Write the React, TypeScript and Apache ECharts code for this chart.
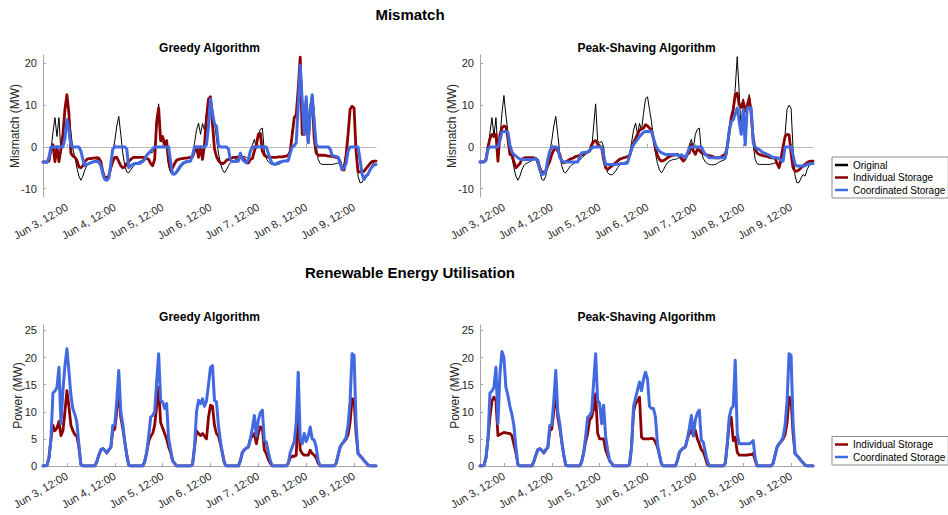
import React, { useEffect, useRef } from 'react';
import * as echarts from 'echarts';

// Hourly timeline, Jun 3 00:00 to Jun 9 23:00
const days = ['Jun 3', 'Jun 4', 'Jun 5', 'Jun 6', 'Jun 7', 'Jun 8', 'Jun 9'];
const hoursOfDay = [
  '00:00', '01:00', '02:00', '03:00', '04:00', '05:00', '06:00', '07:00',
  '08:00', '09:00', '10:00', '11:00', '12:00', '13:00', '14:00', '15:00',
  '16:00', '17:00', '18:00', '19:00', '20:00', '21:00', '22:00', '23:00',
];
const timeLabels = days.flatMap((d) => hoursOfDay.map((h) => `${d}, ${h}`));

const mismatchTicks = [-10, 0, 10, 20];
const powerTicks = [0, 5, 10, 15, 20, 25];

// Mismatch (MW) without storage
const mismatchOriginal = [
  -3.6, -3.6, -3.6, -3.4, -1.0, 3.5, 7.0, 2.5, 7.0, -1.5, 2.0, 8.0, 12.3, 7.5, 3.5, -0.5, -2.5, -5.0, -7.0, -8.0, -7.0, -5.5, -4.5, -4.0,
  -3.8, -3.5, -3.3, -3.1, -3.0, -4.5, -6.0, -7.8, -8.0, -7.0, -4.0, -1.0, 1.5, 5.0, 7.3, 3.0, -1.5, -4.5, -6.0, -6.2, -5.5, -4.8, -4.3, -4.0,
  -3.6, -3.4, -3.1, -2.7, -2.2, -1.6, -1.4, -1.3, -0.5, 5.0, 10.3, 1.5, 1.0, 1.3, 0.0, -4.5, -6.2, -6.6, -6.7, -6.4, -5.8, -5.0, -4.4, -4.0,
  -3.8, -3.6, -3.4, -2.0, 1.0, 4.0, 5.7, 3.0, 5.6, 4.0, 8.0, 11.5, 12.0, 9.0, 6.0, 2.0, -1.5, -4.0, -5.5, -6.2, -5.5, -4.5, -3.8, -3.4,
  -3.2, -3.0, -3.0, -2.8, -2.5, -2.3, -2.5, -3.0, -1.5, 0.5, 1.8, -0.3, 3.0, 4.2, 4.5, -1.0, -2.8, -3.6, -4.0, -4.2, -4.3, -4.3, -4.2, -4.0,
  -3.6, -3.4, -3.2, -3.0, -1.5, 4.0, 7.0, 7.7, 14.0, 21.6, 13.0, 3.0, 11.5, 1.0, 9.0, 12.5, 9.0, 0.5, -3.0, -4.0, -4.2, -4.2, -4.2, -4.2,
  -4.2, -4.2, -4.1, -4.0, -3.8, -4.2, -5.0, -4.0, -1.5, 3.0, 9.0, 10.0, 9.3, -0.5, -7.0, -8.6, -8.5, -7.5, -6.6, -7.0, -5.5, -4.5, -3.5, -3.3,
];

// Mismatch (MW), greedy algorithm
const greedyMismatchIndividual = [
  -3.6, -3.6, -3.6, -3.4, -0.5, 0.5, -3.5, 0.0, -3.5, -0.5, 3.0, 9.0, 12.5, 8.0, -1.5, -2.2, -2.5, -3.2, -4.8, -5.0, -4.5, -3.5, -3.0, -2.8,
  -2.8, -2.7, -2.7, -2.6, -2.7, -3.5, -6.0, -7.5, -7.3, -7.0, -5.0, -3.5, -2.5, -2.5, -3.5, -4.5, -5.0, -4.8, -4.0, -3.5, -3.0, -2.6, -2.5, -2.5,
  -2.5, -2.5, -2.5, -2.6, -2.8, -3.0, -4.0, -4.5, -3.0, 6.0, 9.3, 1.5, 2.5, 0.5, 1.5, -3.5, -5.5, -5.0, -4.0, -3.2, -3.0, -2.9, -2.8, -2.7,
  -2.7, -2.6, -2.5, -2.4, -1.0, 0.0, -2.5, 0.0, -3.0, 0.5, 7.0, 11.5, 12.0, 5.5, -0.5, -2.3, -3.3, -3.8, -4.0, -3.8, -3.2, -3.0, -2.8, -2.6,
  -2.5, -2.5, -2.4, -2.4, -2.5, -3.0, -3.8, -3.8, -3.0, -2.8, -1.0, 0.5, 3.0, 3.2, -1.0, -2.0, -2.3, -2.5, -2.5, -2.5, -2.5, -2.5, -2.4, -2.4,
  -2.4, -2.3, -2.2, -2.0, -1.0, 3.0, 7.0, 7.7, 14.0, 21.5, 3.0, 3.0, 11.0, 1.0, 9.0, 12.0, 2.0, -1.5, -2.0, -2.0, -2.0, -2.0, -2.1, -2.2,
  -2.2, -2.3, -2.4, -2.5, -2.6, -3.5, -5.5, -5.5, -2.0, 3.0, 9.0, 9.7, 9.3, -1.0, -6.0, -6.0, -6.0, -5.8, -5.2, -4.6, -4.0, -3.5, -3.4, -3.4,
];
const greedyMismatchCoordinated = [
  -3.7, -3.7, -3.7, -2.5, 0, 0, 0, 0, 0, 0, 0, 2.0, 6.5, 4.0, 0.3, 0, 0, 0, 0, -1.0, -3.0, -4.5, -4.2, -4.0,
  -3.8, -3.6, -3.5, -3.5, -3.6, -4.5, -6.5, -7.8, -8.0, -7.5, -4.0, -0.5, 0, 0, 0, 0, 0, 0, -0.5, -5.0, -4.5, -4.2, -4.0, -4.0,
  -4.0, -3.8, -3.5, -3.0, -2.0, -1.5, -1.0, -0.5, 0, 0, 0, 0, 0, 0, 0, 0, -3.5, -6.5, -6.5, -6.0, -5.2, -4.5, -4.0, -3.7,
  -3.5, -3.5, -3.4, -2.0, 0, 0, 0, 0, 0, 0, 0.5, 5.0, 11.5, 8.0, 5.5, 5.0, 0.3, 0, 0, 0, 0, -0.5, -3.2, -3.5,
  -3.5, -3.5, -3.4, -1.5, -3.0, -3.5, -3.8, -3.0, -1.0, 0, 0, 0, 0, 0, 0, 0, 0, -1.5, -3.0, -4.0, -4.2, -4.0, -3.8, -3.6,
  -3.5, -3.4, -3.4, -3.3, -1.5, 0, 0.3, 1.0, 10.0, 19.5, 11.0, 3.0, 12.0, 1.0, 8.0, 12.5, 6.0, 0.5, 0, 0, 0, 0, 0, 0,
  -0.5, -2.0, -2.2, -2.3, -2.5, -4.0, -5.4, -5.0, -4.0, -1.0, 0, 0, 0, 0, 0, -3.0, -6.5, -7.8, -7.0, -6.5, -5.5, -4.8, -4.3, -4.2,
];

// Mismatch (MW), peak-shaving algorithm
const peakMismatchIndividual = [
  -3.6, -3.6, -3.6, -3.0, 0.0, 2.0, 3.0, 2.5, 3.0, -3.4, 3.0, 4.5, 5.0, 4.8, 2.0, -1.8, -2.0, -3.5, -5.0, -4.5, -4.0, -3.0, -2.7, -2.6,
  -2.6, -2.6, -2.6, -2.6, -2.8, -3.2, -5.0, -6.2, -6.0, -5.8, -4.5, -3.4, -1.8, -0.8, 0.0, -1.0, -1.8, -3.5, -3.8, -3.6, -3.3, -3.0, -2.8, -2.6,
  -2.3, -2.2, -2.0, -1.9, -1.8, -1.5, -1.2, -1.0, 0.5, 1.3, 1.5, 0.7, 0.2, -0.2, -3.0, -5.0, -5.4, -5.0, -4.6, -4.2, -3.8, -3.4, -3.0, -2.8,
  -2.6, -2.5, -2.3, -2.2, -0.5, 1.0, 2.0, 3.0, 4.0, 4.3, 4.5, 5.3, 5.0, 4.5, 4.1, 2.0, -0.5, -2.0, -3.0, -3.4, -3.3, -3.0, -2.6, -2.3,
  -2.1, -2.0, -1.9, -1.8, -2.2, -2.8, -3.4, -2.8, -1.8, -1.4, 0.6, -1.0, -1.8, -0.6, -0.8, -1.4, -1.6, -1.8, -2.0, -2.1, -2.2, -2.4, -2.6, -2.6,
  -2.6, -2.4, -2.0, -1.8, 0.0, 3.5, 7.0, 9.0, 12.5, 12.9, 10.0, 9.5, 10.9, 8.5, 10.0, 11.7, 8.0, 2.0, -0.5, -1.5, -1.8, -2.0, -2.1, -2.2,
  -2.3, -2.5, -2.6, -2.6, -2.7, -4.0, -5.0, -2.5, 0.0, 2.5, 3.0, 2.9, -1.5, -5.0, -5.8, -5.8, -5.5, -5.0, -4.6, -4.2, -3.8, -3.5, -3.4, -3.4,
];
const peakMismatchCoordinated = [
  -3.6, -3.6, -3.6, -3.2, -0.5, 0, 0, 0, 0, 0, 1.5, 3.5, 3.7, 3.7, 3.5, 0.5, -1.2, -1.8, -2.2, -2.6, -2.9, -3.0, -3.0, -3.0,
  -3.0, -3.0, -3.0, -2.9, -2.8, -3.5, -5.5, -6.6, -6.5, -5.8, -3.0, -1.0, 0, 0, -0.1, -0.2, -2.5, -3.4, -3.6, -3.6, -3.6, -3.6, -3.6, -3.6,
  -3.6, -3.6, -2.5, -1.4, -1.4, -1.3, -1.3, -0.8, -0.3, 0, 0, 0, 0, 0, -2.0, -4.2, -4.2, -4.2, -4.2, -4.2, -4.2, -4.1, -4.1, -4.0,
  -4.0, -4.0, -3.8, -2.0, -0.5, 0.5, 1.2, 1.8, 2.5, 3.0, 3.5, 3.7, 3.7, 3.7, 3.7, 2.0, 0.5, -0.5, -1.0, -1.4, -1.6, -1.8, -1.8, -1.8,
  -1.8, -1.8, -1.8, -2.0, -2.2, -1.9, -2.2, -2.6, -1.5, -0.2, 0, 0, 0, 0, 0, 0, -1.0, -1.8, -2.2, -2.6, -2.6, -2.6, -2.6, -2.6,
  -2.6, -2.6, -2.6, -2.6, 0.0, 4.0, 6.0, 6.5, 8.0, 9.3, 6.0, 3.0, 9.0, 0.5, 9.3, 9.3, 9.3, 1.0, 0.0, -0.4, -0.6, -1.0, -1.4, -1.5,
  -1.8, -2.0, -2.3, -2.6, -2.6, -2.6, -2.8, -3.2, -3.4, 0, 0, 0, 0, -2.0, -4.2, -4.6, -4.6, -4.6, -4.6, -4.5, -4.2, -4.1, -4.0, -4.0,
];

// Renewable power used (MW), greedy algorithm
const greedyPowerIndividual = [
  0, 0, 0.1, 1.5, 5.0, 7.5, 6.5, 7.0, 8.2, 5.6, 6.5, 10.0, 13.9, 11.0, 7.5, 6.5, 5.8, 5.5, 3.5, 0.3, 0, 0, 0, 0,
  0, 0, 0, 0.8, 2.0, 3.0, 3.2, 2.9, 2.4, 3.0, 3.4, 6.5, 6.8, 10.0, 14.5, 9.0, 7.0, 4.5, 2.0, 0.2, 0, 0, 0, 0,
  0, 0, 0, 0.8, 2.5, 4.5, 5.5, 6.0, 7.5, 11.0, 14.5, 8.0, 7.0, 6.0, 5.0, 3.5, 2.5, 1.0, 0.5, 0, 0, 0, 0, 0,
  0, 0, 0, 0.3, 3.5, 6.5, 6.0, 5.6, 6.0, 5.5, 5.0, 9.0, 11.2, 11.0, 7.5, 6.0, 5.5, 4.0, 2.3, 0.5, 0, 0, 0, 0,
  0, 0, 0, 1.0, 2.5, 3.0, 3.3, 3.5, 5.0, 5.5, 6.0, 4.1, 6.0, 7.2, 7.0, 3.0, 2.3, 1.2, 0.5, 0, 0, 0, 0, 0,
  0, 0, 0, 0.5, 1.5, 1.8, 1.8, 2.0, 10.9, 3.0, 2.3, 2.0, 2.0, 2.0, 2.9, 2.3, 2.0, 1.5, 0.5, 0, 0, 0, 0, 0,
  0, 0, 0, 0.5, 2.0, 3.5, 4.1, 4.5, 5.0, 5.8, 8.0, 12.4, 12.2, 6.0, 2.3, 1.9, 1.5, 1.0, 0.6, 0.2, 0, 0, 0, 0,
];
const greedyPowerCoordinated = [
  0, 0, 0.1, 1.5, 5.0, 13.5, 13.8, 14.5, 18.2, 7.8, 14.0, 18.5, 21.6, 17.5, 13.0, 10.5, 9.5, 8.0, 4.0, 0.3, 0, 0, 0, 0,
  0, 0, 0, 0.8, 2.0, 3.0, 3.2, 2.9, 2.4, 3.0, 3.4, 7.5, 7.6, 12.0, 17.6, 10.0, 7.8, 4.5, 2.0, 0.2, 0, 0, 0, 0,
  0, 0, 0, 0.8, 2.5, 5.5, 9.0, 9.3, 10.0, 15.5, 20.7, 12.1, 11.8, 10.6, 11.5, 5.0, 3.0, 1.0, 0.5, 0, 0, 0, 0, 0,
  0, 0, 0, 0.3, 3.5, 10.0, 12.1, 11.5, 12.4, 11.0, 12.0, 15.0, 18.2, 18.5, 12.1, 11.8, 7.5, 4.5, 2.3, 0.5, 0, 0, 0, 0,
  0, 0, 0, 1.0, 2.5, 3.0, 3.3, 3.5, 5.0, 7.0, 9.3, 5.5, 8.5, 9.8, 10.3, 4.7, 4.4, 2.5, 1.0, 0, 0, 0, 0, 0,
  0, 0, 0, 0.5, 2.5, 3.5, 4.5, 8.0, 17.3, 5.0, 4.1, 6.0, 4.5, 5.5, 7.2, 5.0, 4.8, 3.5, 1.0, 0, 0, 0, 0, 0,
  0, 0, 0, 0.5, 2.0, 3.5, 4.1, 4.6, 5.3, 7.5, 12.0, 20.7, 20.4, 8.0, 2.3, 1.9, 1.5, 1.0, 0.6, 0.2, 0, 0, 0, 0,
];

// Renewable power used (MW), peak-shaving algorithm
const peakPowerIndividual = [
  0, 0, 0.1, 1.5, 5.0, 9.0, 12.0, 12.7, 12.0, 5.6, 5.8, 6.0, 6.2, 6.1, 6.0, 6.0, 5.6, 4.0, 2.5, 0.3, 0, 0, 0, 0,
  0, 0, 0, 0.8, 2.0, 3.0, 3.2, 2.9, 2.4, 3.0, 3.4, 6.5, 6.8, 10.0, 13.9, 9.0, 7.0, 4.5, 2.0, 0.2, 0, 0, 0, 0,
  0, 0, 0, 0.8, 2.5, 4.5, 6.0, 8.5, 9.0, 10.5, 13.3, 6.0, 5.0, 5.0, 5.0, 3.0, 2.0, 1.0, 0.5, 0, 0, 0, 0, 0,
  0, 0, 0, 0.3, 3.5, 10.0, 11.5, 12.0, 12.7, 5.3, 5.0, 5.0, 5.0, 5.0, 5.1, 5.0, 4.4, 3.5, 2.0, 0.4, 0, 0, 0, 0,
  0, 0, 0, 1.0, 2.5, 3.0, 3.3, 3.5, 5.0, 6.0, 6.6, 5.6, 6.6, 5.0, 4.1, 3.0, 2.6, 1.5, 0.3, 0, 0, 0, 0, 0,
  0, 0, 0, 0.5, 4.0, 8.0, 9.0, 4.7, 5.3, 2.5, 2.0, 2.0, 2.0, 2.0, 2.0, 2.1, 2.1, 2.3, 1.0, 0, 0, 0, 0, 0,
  0, 0, 0, 0.5, 2.0, 3.5, 4.1, 4.5, 5.0, 5.8, 8.0, 12.7, 12.2, 6.0, 2.3, 1.9, 1.5, 1.0, 0.6, 0.2, 0, 0, 0, 0,
];
const peakPowerCoordinated = [
  0, 0, 0.1, 1.5, 5.0, 13.5, 13.8, 14.5, 18.2, 7.8, 17.0, 21.1, 20.0, 14.5, 13.0, 11.0, 9.5, 7.5, 3.5, 0.3, 0, 0, 0, 0,
  0, 0, 0, 0.8, 2.0, 3.0, 3.2, 2.9, 2.4, 3.0, 3.4, 7.5, 7.6, 12.0, 17.6, 10.0, 7.8, 4.5, 2.0, 0.2, 0, 0, 0, 0,
  0, 0, 0, 0.8, 2.5, 5.5, 9.0, 9.3, 10.0, 15.5, 20.7, 12.1, 11.5, 7.8, 11.2, 5.5, 3.0, 1.0, 0.5, 0, 0, 0, 0, 0,
  0, 0, 0, 0.3, 3.5, 11.0, 12.5, 14.0, 15.5, 13.9, 16.0, 17.3, 16.0, 11.0, 10.6, 10.6, 9.0, 4.0, 2.0, 0.4, 0, 0, 0, 0,
  0, 0, 0, 1.0, 2.5, 3.0, 3.3, 3.5, 5.0, 7.0, 9.3, 5.5, 8.5, 9.8, 10.3, 4.7, 4.4, 2.5, 1.0, 0, 0, 0, 0, 0,
  0, 0, 0, 0.5, 4.0, 9.0, 10.6, 11.0, 19.5, 6.0, 4.1, 4.1, 4.1, 4.1, 4.1, 4.1, 4.3, 4.7, 1.5, 0, 0, 0, 0, 0,
  0, 0, 0, 0.5, 2.0, 3.5, 4.1, 4.6, 5.3, 7.5, 12.0, 20.7, 20.4, 8.0, 2.3, 1.9, 1.5, 1.0, 0.6, 0.2, 0, 0, 0, 0,
];

const FONT = '"Liberation Sans", Arial, Helvetica, sans-serif';
const ORIGINAL_COLOR = '#000000';
const INDIVIDUAL_COLOR = '#8b0000';
const COORDINATED_COLOR = '#4169e1';
const AXIS_COLOR = '#a6a6a6';
const LABEL_COLOR = '#262626';

const atNoon = (index: number) => index % 24 === 12;

const panels = [
  { left: 43, top: 55, height: 142 },
  { left: 480, top: 55, height: 142 },
  { left: 43, top: 325, height: 141 },
  { left: 480, top: 325, height: 141 },
];

function makeXAxis(gridIndex: number) {
  return {
    type: 'category',
    gridIndex,
    data: timeLabels,
    boundaryGap: false,
    axisLine: { show: true, lineStyle: { color: AXIS_COLOR, width: 1 } },
    axisTick: { show: true, inside: true, length: 3, interval: atNoon, lineStyle: { color: AXIS_COLOR } },
    axisLabel: { interval: atNoon, rotate: 30, fontSize: 11, color: LABEL_COLOR, margin: 9, fontFamily: FONT },
    splitLine: { show: false },
  };
}

function makeYAxis(gridIndex: number, name: string, min: number, max: number, ticks: number[], nameGap: number) {
  return {
    type: 'value',
    gridIndex,
    min,
    max,
    name,
    nameLocation: 'middle',
    nameGap,
    nameMoveOverlap: false,
    nameTextStyle: { fontSize: 12, color: LABEL_COLOR, fontFamily: FONT },
    axisLine: { show: true, lineStyle: { color: AXIS_COLOR, width: 1 } },
    axisTick: { show: true, inside: true, length: 3, customValues: ticks, lineStyle: { color: AXIS_COLOR } },
    axisLabel: { customValues: ticks, fontSize: 11, color: LABEL_COLOR, margin: 6, fontFamily: FONT },
    splitLine: { show: false },
  };
}

function lineSeries(name: string, data: number[], axis: number, color: string, width: number, z: number, extra: object = {}) {
  return {
    name,
    type: 'line',
    data,
    xAxisIndex: axis,
    yAxisIndex: axis,
    showSymbol: false,
    symbol: 'none',
    z,
    color,
    itemStyle: { color },
    lineStyle: { color, width, join: 'round', cap: 'round' },
    emphasis: { disabled: true },
    ...extra,
  };
}

// Faint reference line at zero mismatch, kept beneath the data lines
const zeroLine = {
  markLine: {
    silent: true,
    z: 1,
    symbol: 'none',
    label: { show: false },
    lineStyle: { color: '#d6d6d6', type: 'dotted', width: 0.8 },
    emphasis: { disabled: true },
    data: [{ yAxis: 0 }],
  },
};

function heading(text: string, x: number, y: number, size: number) {
  return {
    type: 'text',
    x,
    y,
    style: {
      text,
      align: 'center',
      verticalAlign: 'middle',
      textAlign: 'center',
      textVerticalAlign: 'middle',
      fontSize: size,
      fontWeight: 'bold',
      fontFamily: FONT,
      fill: '#000',
    },
  };
}

const legendBase = {
  orient: 'vertical',
  left: 832,
  icon: 'rect',
  itemWidth: 13,
  itemHeight: 2.5,
  itemGap: 0.5,
  padding: [2, 3, 2, 3],
  borderColor: '#8c8c8c',
  borderWidth: 1,
  backgroundColor: '#ffffff',
  selectedMode: false,
  textStyle: { fontSize: 10, color: '#000', lineHeight: 12, fontFamily: FONT },
};

export default function App() {
  const ref = useRef<HTMLDivElement>(null);

  useEffect(() => {
    if (!ref.current) return;
    const chart = echarts.init(ref.current, undefined, { renderer: 'svg' });
    chart.setOption({
      animation: false,
      backgroundColor: '#ffffff',
      textStyle: { fontFamily: FONT },
      grid: panels.map((p) => ({
        left: p.left,
        top: p.top,
        width: 333,
        height: p.height,
        containLabel: false,
        outerBoundsMode: 'none',
      })),
      xAxis: [0, 1, 2, 3].map((i) => makeXAxis(i)),
      yAxis: [
        makeYAxis(0, 'Mismatch (MW)', -12, 22, mismatchTicks, 22),
        makeYAxis(1, 'Mismatch (MW)', -12, 22, mismatchTicks, 22),
        makeYAxis(2, 'Power (MW)', 0, 26, powerTicks, 19.5),
        makeYAxis(3, 'Power (MW)', 0, 26, powerTicks, 19.5),
      ],
      legend: [
        { ...legendBase, top: 157, data: ['Original', 'Individual Storage', 'Coordinated Storage'] },
        { ...legendBase, top: 436.5, data: ['Individual Storage', 'Coordinated Storage'] },
      ],
      graphic: [
        heading('Mismatch', 410, 14, 15),
        heading('Renewable Energy Utilisation', 410, 272, 15),
        heading('Greedy Algorithm', 209.5, 47.5, 12),
        heading('Peak-Shaving Algorithm', 646.5, 47.5, 12),
        heading('Greedy Algorithm', 209.5, 317, 12),
        heading('Peak-Shaving Algorithm', 646.5, 317, 12),
      ],
      series: [
        lineSeries('Original', mismatchOriginal, 0, ORIGINAL_COLOR, 1, 2, zeroLine),
        lineSeries('Individual Storage', greedyMismatchIndividual, 0, INDIVIDUAL_COLOR, 2.8, 3),
        lineSeries('Coordinated Storage', greedyMismatchCoordinated, 0, COORDINATED_COLOR, 3, 4),
        lineSeries('Original', mismatchOriginal, 1, ORIGINAL_COLOR, 1, 2, zeroLine),
        lineSeries('Individual Storage', peakMismatchIndividual, 1, INDIVIDUAL_COLOR, 2.8, 3),
        lineSeries('Coordinated Storage', peakMismatchCoordinated, 1, COORDINATED_COLOR, 3, 4),
        lineSeries('Individual Storage', greedyPowerIndividual, 2, INDIVIDUAL_COLOR, 2.8, 3),
        lineSeries('Coordinated Storage', greedyPowerCoordinated, 2, COORDINATED_COLOR, 3, 4),
        lineSeries('Individual Storage', peakPowerIndividual, 3, INDIVIDUAL_COLOR, 2.8, 3),
        lineSeries('Coordinated Storage', peakPowerCoordinated, 3, COORDINATED_COLOR, 3, 4),
      ],
    });
    return () => chart.dispose();
  }, []);

  return (
    <div
      ref={ref}
      style={{ position: 'absolute', left: 0, top: 0, width: 948, height: 515, background: '#fff' }}
    />
  );
}
